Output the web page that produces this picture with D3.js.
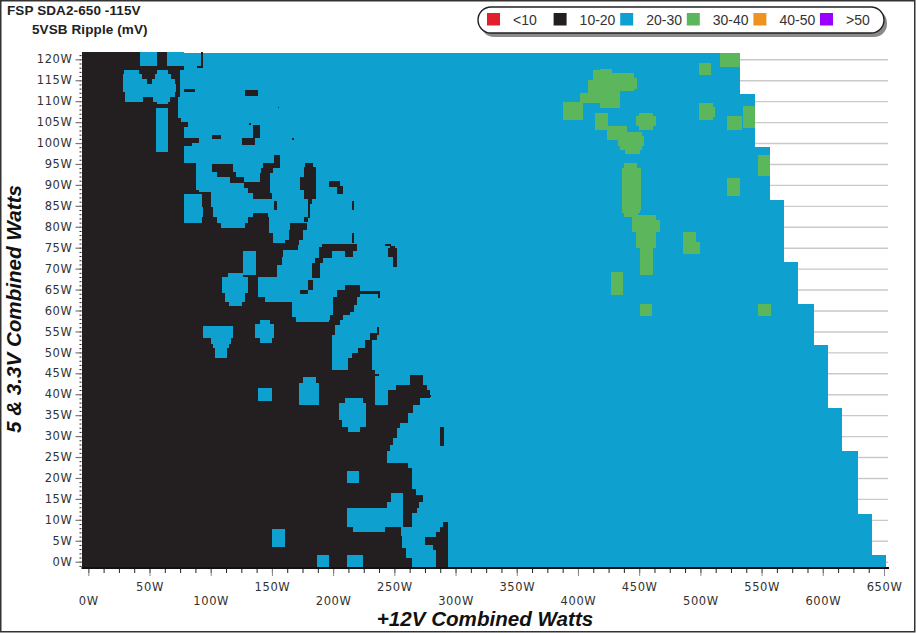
<!DOCTYPE html>
<html>
<head>
<meta charset="utf-8">
<script src="https://cdn.jsdelivr.net/npm/d3@7"></script>
<style>
  html, body { margin: 0; padding: 0; background: #fff; }
  svg { display: block; }
  .tick-label { font-family: "DejaVu Sans", sans-serif; font-size: 11.5px; letter-spacing: 0.6px; fill: #333; }
  .title { font-family: "Liberation Sans", Arial, sans-serif; font-size: 13.5px; font-weight: bold; letter-spacing: 0.1px; fill: #222; }
  .axis-title { font-family: "Liberation Sans", Arial, sans-serif; font-size: 20.6px; font-weight: bold; font-style: italic; fill: #111; }
  .legend-label { font-family: "Liberation Sans", Arial, sans-serif; font-size: 14px; fill: #333; }
</style>
</head>
<body>
<svg id="chart" width="916" height="633"></svg>
<script>
// Legend classes (mV)
const rippleLabels = ['<10', '10-20', '20-30', '30-40', '40-50', '>50'];
const rippleColors = ['#e2202c', '#231f20', '#0ea1d0', '#5cb65c', '#ee9320', '#9900ff'];

// Tick values in watts
const xTicks = d3.range(0, 651, 50);
const xMinorTicks = d3.range(0, 651, 12.5);
const yTicks = d3.range(0, 121, 5);
const yMinorTicks = d3.range(-1, 122, 1);

// Load limits: up to fiveVoltTop on the 5V/3.3V side the +12V side reaches twelveVoltMax
const fiveVoltTop = [1.6, 11.4, 26.4, 36.7, 51.8, 61.5, 71.6, 86.4, 99, 111.7, 121.6];
const twelveVoltMax = [652, 640, 629, 616, 604, 593, 580, 568, 557, 545, 532];

// Measured zones: [12V from, 12V to, 5V from, 5V to]
const zones1020 = [
  [-5.1,78.2,-1.5,121.7],[92.1,93.7,117.9,121.7],[88.8,93.7,117.9,118.4],[77.4,87.2,112.2,112.9],
  [78.2,81.5,103.8,105],[78.2,90.4,100,101.2],[78.2,84.7,99.3,100],[78.2,88,87.8,95.2],[78.2,90.4,87.3,88.8],
  [128,138.7,111.2,112.6],[154.6,155.8,108.3,108.7],[131,132.9,104.3,104.8],[134.6,140.3,101.2,104.3],
  [125.6,136.2,99.5,101.2],[101.1,108.4,100.9,101.9],[166.8,168,100.7,101.2],
  [101.1,118.2,93.1,95],[105.1,120.7,91.9,93.1],[115.8,127.2,90.4,91.9],[127.2,148.4,89.2,90.7],
  [130.5,148.4,88,89.2],[134.6,150.1,86.6,88],[140.3,148.4,90.7,92.8],[141.1,150.9,92.8,94],
  [142.7,156.6,94,95.2],[151.7,156.6,95.2,97.1],[151.7,154.2,84,86.1],
  [177,183.6,94.3,95.2],[176.2,186,91.9,94.3],[173,186,88.8,91.9],[176.2,186,86.6,88.8],
  [179.5,182.8,85.4,86.6],[179.5,180.7,82.1,85.4],[196.6,205.6,89.5,90.9],[203.2,208.1,87.8,89.7],
  [215.4,216.7,84,86.1],
  [90.4,100.2,84.7,88.3],[93.7,101.9,82.3,84.7],[89.6,105.1,80.9,82.3],[78.2,108.4,79.7,80.9],
  [78.2,147.6,78.5,79.7],[78.2,150.9,76.1,78.5],[78.2,171.3,74.4,76.1],[134.6,146.8,82.1,83.3],
  [130.5,147.6,80.9,82.3],[128,147.6,79.7,80.9],[78.2,159.1,72.8,74.4],[78.2,158.2,70.9,72.8],
  [78.2,154.2,68,70.9],[176.2,179.5,81.1,82.3],[164.8,178.6,79.2,80.9],[164,175.4,76.8,79.2],
  [160.7,172.1,75.6,76.8],[78.2,138.7,63.2,68],[78.2,144.4,62,63.2],[78.2,166.4,58.4,62],
  [78.2,169.7,57.2,58.4],[78.2,201.5,54.1,57.2],[78.2,199.1,45.8,54.1],
  [173,179.5,63.9,64.9],[179.5,183.6,64.9,67.3],[182.8,189.3,67.7,71.3],[185.2,191.7,71.3,72.5],
  [188.5,199.1,72.5,75.1],[190.9,219.5,74.2,75.9],[209.7,216.3,72.8,74.2],[215.4,216.7,76.1,78.5],
  [242.4,247.3,75.4,75.9],[246.5,250.6,74.9,75.4],[244.8,252.2,72.8,74.9],[248.9,252.2,70.4,72.8],
  [209.7,222,64.9,66.1],[203.2,222,63.2,64.9],[222,238.3,63.9,64.6],[236.7,238.3,63,63.9],
  [199.9,219.5,61.3,63.2],[199.9,217.1,59.6,61.3],[199.9,213.8,58.9,59.6],[197.4,208.1,57.7,58.9],
  [196.6,205.6,56.5,57.7],[235.9,237.5,54.1,56],[230.2,235.9,52.9,54.6],[226.1,231.8,51,52.9],
  [220.4,231.8,49.8,51],[215.4,231.8,48.6,49.8],[212.2,231.8,45.8,48.6],
  [78.2,234.2,37.4,45.8],[234.2,237.5,44.3,44.8],[262.9,273.5,42.2,44.6],[251.4,276.8,41,42.2],
  [244.8,279.3,39.1,41],[276.8,280.1,39.3,39.8],[244.8,271.1,37.4,39.1],
  [78.2,265.3,35.5,37.4],[78.2,261.2,33.1,35.5],[78.2,254.7,31.9,33.1],[78.2,252.2,29.5,31.9],
  [78.2,248.9,27.9,29.5],[78.2,246.5,26.4,27.9],[78.2,244,23.6,26.4],[78.2,261.2,22.4,23.6],
  [78.2,264.5,17.4,22.4],[78.2,267.8,15.9,17.4],[78.2,273.5,14.3,15.9],[78.2,270.3,12.8,14.3],
  [78.2,268.6,11.6,12.8],[78.2,264.5,8.3,11.6],[78.2,255.5,6.1,8.3],[78.2,256.3,3.3,6.1],
  [78.2,259.6,0.9,3.3],[78.2,264.5,-1.5,0.9],
  [287.5,290.6,27.6,32.2],[289.9,293.9,8.3,9.5],[287.5,293.9,7.1,8.3],[284.2,293.9,5.9,7.1],
  [275.2,293.9,4,5.9],[281.7,293.9,2.8,4],[284.2,293.9,-1.5,2.8]
];

// Pockets of 20-30 mV inside the 10-20 mV area
const zones2030 = [
  [42.2,56.1,118.4,121.7],[64.3,78.2,118.4,121.7],[74.9,78.2,111,117.4],[73.3,78.2,105.9,111],
  [75.7,78.2,105,105.9],[29.2,41.4,116.5,117.4],[56.1,65.1,116.5,117.4],[28.4,43.9,115.3,116.5],
  [54.5,67.6,115.3,116.5],[28.4,48,114.1,115.3],[52,70.8,114.1,115.3],[28.4,71.7,112.2,114.1],
  [30,70.8,111,112.2],[30,44.7,109.8,111],[52.9,66.8,109.8,111],[56.1,65.1,109.3,109.8],
  [55.3,65.1,97.8,108.3],[78.2,92.9,80.9,87.8],[126.4,137,68.5,74.2],
  [114.1,126.4,68,68.9],[109.2,130.5,64.2,68],[111.6,128,62,64.2],[114.9,125.6,61.1,62],
  [93.7,118.2,53.4,56.3],[100.2,116.6,52,53.4],[102,115,51,52],[103.5,113.3,48.6,51],
  [140.3,148.4,56.8,57.7],[136.2,151.7,53.4,56.8],[140.3,150.1,52.2,53.4],[138.7,150.1,38.4,41.5],
  [175.4,186,42.7,44.1],[172.1,188.5,37.4,42.7],[209.7,224.4,37.9,39.1],[204.8,226.9,33.8,37.9],
  [207.3,226.9,32.2,33.8],[212.2,222,31,32.2],[211.4,221.2,18.8,21.6],
  [247.3,257.1,14.3,16.4],[244,257.1,12.8,14.3],[211.4,257.1,8.3,12.8],[216.3,242.4,7.1,8.3],
  [150.1,160.7,3.5,7.8],[186.8,196.6,-1.5,1.6],[211.4,224.4,-1.5,1.6]
];

const zones3040 = [
  [387.8,404.2,105.4,109.8],[401.7,418,109.5,111.9],[408,418,111.9,115],[412.2,418,115,117.4],
  [413.8,424.5,103.1,107.1],[418,427.8,115,117.6],[418,446,115.6,116.7],[418,448.2,113,115.6],[418,446,112.4,113],[418,434.2,108.3,112.4],
  [423.7,440,100.7,104.1],[434.5,452,101.6,102.6],[432.7,454,99.2,101.6],[434.5,452,98.3,99.2],[438.4,450.5,97.4,98.3],
  [450.2,461,106.4,107.1],[447.4,463.7,104,106.4],[450.2,461,103.1,104],
  [437.6,448.2,94,95.2],[436,451.5,84,94],[436,450.7,83.3,84],[437.6,449.1,82.3,83.3],
  [444.2,463.7,81.6,82.8],[444.2,467,78.7,81.6],[447.4,463.7,74.9,78.7],[450.7,461.3,68.5,74.9],
  [485.9,496.5,76.3,78.7],[485.9,499.8,73.5,76.3],[427,436.8,63.7,69.2],[450.7,460.5,58.7,61.5],
  [547.1,557.8,58.7,61.5],[516,532.3,118.1,121.6],[498.9,508.7,116.2,119.1],
  [498.9,510,108.6,109.5],[498.9,512,106.2,108.6],[498.9,510,105.4,106.2],
  [521.7,534,103.1,106.4],[534.8,544.6,103.6,108.8],[547.1,556.9,92.1,97.1],[521.7,532.3,87.3,91.6]
];

const svg = d3.select('#chart');

// Scales
const xScale = d3.scaleLinear().domain([0, 650]).range([88.3, 884]);
const yScale = d3.scaleLinear().domain([0, 120]).range([561.7, 59.3]);
const plotLeft = 81.5;
const plotBottom = 568;

// Grey grid lines sit behind the fill
svg.append('g')
  .attr('transform', `translate(${plotLeft}, 0)`)
  .call(d3.axisRight(yScale).tickValues(yTicks).tickSize(888 - plotLeft).tickFormat(''))
  .call(g => g.select('.domain').remove())
  .call(g => g.selectAll('line').attr('stroke', '#c9c9c9').attr('stroke-width', 1.4));

// Draws a list of zones in one colour
function drawZones(zones, color) {
  svg.append('g')
    .attr('shape-rendering', 'crispEdges')
    .selectAll('rect')
    .data(zones)
    .join('rect')
    .attr('x', d => xScale(d[0]))
    .attr('width', d => xScale(d[1]) - xScale(d[0]))
    .attr('y', d => yScale(d[3]))
    .attr('height', d => yScale(d[2]) - yScale(d[3]))
    .attr('fill', color);
}

// Base area under the load limit is all 20-30 mV
const baseZones = fiveVoltTop.map((top, i) => [-5.1, twelveVoltMax[i], i ? fiveVoltTop[i - 1] : -1.5, top]);
drawZones(baseZones, rippleColors[2]);
drawZones(zones1020, rippleColors[1]);
drawZones(zones2030, rippleColors[2]);
drawZones(zones3040, rippleColors[3]);

// Y axis: minor ticks, major ticks, labels
svg.append('g')
  .attr('transform', `translate(${plotLeft}, 0)`)
  .call(d3.axisLeft(yScale).tickValues(yMinorTicks).tickSize(2).tickFormat(''))
  .call(g => g.selectAll('line').attr('stroke', '#222'))
  .call(g => g.select('.domain').remove());

svg.append('g')
  .attr('transform', `translate(${plotLeft}, 0)`)
  .call(d3.axisLeft(yScale).tickValues(yTicks).tickSize(6).tickPadding(3).tickFormat(d => d + 'W'))
  .call(g => g.select('.domain').remove())
  .call(g => g.selectAll('line').attr('stroke', '#777').attr('stroke-width', 1.2))
  .call(g => g.selectAll('text').attr('class', 'tick-label').attr('fill', null));

// X axis: thick base line, minor ticks, major ticks, staggered labels
svg.append('g')
  .attr('transform', `translate(0, ${plotBottom})`)
  .call(d3.axisBottom(xScale).tickValues(xMinorTicks).tickSize(5).tickFormat(''))
  .call(g => g.select('.domain').remove())
  .call(g => g.selectAll('line').attr('stroke', '#222').attr('stroke-width', 1));

svg.append('g')
  .attr('transform', `translate(0, ${plotBottom})`)
  .call(d3.axisBottom(xScale).tickValues(xTicks).tickSize(8).tickFormat(d => d + 'W'))
  .call(g => g.select('.domain').remove())
  .call(g => g.selectAll('line').attr('stroke', '#888').attr('stroke-width', 1))
  .call(g => g.selectAll('text')
    .attr('class', 'tick-label')
    .attr('fill', null)
    .attr('y', d => (d % 100 === 0 ? 29 : 15))
    .attr('dy', '0.71em'));

svg.append('line')
  .attr('x1', plotLeft).attr('x2', 889)
  .attr('y1', plotBottom).attr('y2', plotBottom)
  .attr('stroke', '#111').attr('stroke-width', 2);

// Titles
svg.append('text').attr('class', 'title').attr('x', 7).attr('y', 15).text('FSP SDA2-650 -115V');
svg.append('text').attr('class', 'title').attr('x', 32).attr('y', 34).text('5VSB Ripple (mV)');

svg.append('text').attr('class', 'axis-title')
  .attr('x', 485).attr('y', 626).attr('text-anchor', 'middle')
  .text('+12V Combined Watts');

svg.append('text').attr('class', 'axis-title')
  .attr('transform', 'translate(21, 309) rotate(-90)')
  .attr('text-anchor', 'middle')
  .text('5 & 3.3V Combined Watts');

// Legend
const legend = svg.append('g');
legend.append('rect')
  .attr('x', 481).attr('y', 10).attr('width', 406).attr('height', 27).attr('rx', 13)
  .attr('fill', '#8a8a8a');
legend.append('rect')
  .attr('x', 478).attr('y', 7).attr('width', 406).attr('height', 26).attr('rx', 13)
  .attr('fill', '#fff').attr('stroke', '#222').attr('stroke-width', 1.4);

const legendItem = legend.selectAll('g.item')
  .data(rippleLabels)
  .join('g')
  .attr('class', 'item')
  .attr('transform', (d, i) => `translate(${487 + i * 66.6}, 13)`);

legendItem.append('rect')
  .attr('width', 13).attr('height', 12.5)
  .attr('fill', (d, i) => rippleColors[i]);

legendItem.append('text')
  .attr('class', 'legend-label')
  .attr('x', 26).attr('y', 12)
  .text(d => d);

// Image frame
svg.append('rect')
  .attr('x', 0.75).attr('y', 0.75).attr('width', 914).attr('height', 631)
  .attr('fill', 'none').attr('stroke', '#333').attr('stroke-width', 1.5);
</script>
</body>
</html>
